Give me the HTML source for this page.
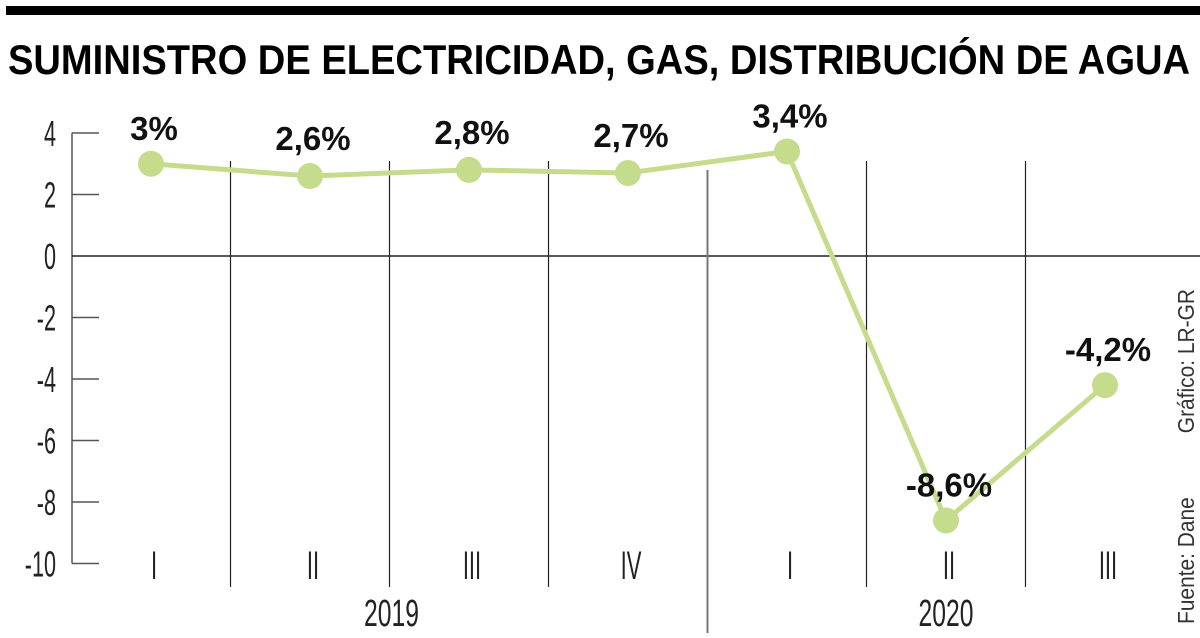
<!DOCTYPE html>
<html><head><meta charset="utf-8"><style>
body{margin:0;background:#fff;width:1200px;height:633px;overflow:hidden}
svg text{font-family:"Liberation Sans",sans-serif}
</style></head><body>
<svg width="1200" height="633">
<rect x="6" y="6" width="1194" height="9" fill="#000"/>
<text x="8" y="74" font-size="42" font-weight="bold" textLength="1182" lengthAdjust="spacingAndGlyphs">SUMINISTRO DE ELECTRICIDAD, GAS, DISTRIBUCIÓN DE AGUA</text>
<g id="axes"></g>
<g id="marks"></g>
<text transform="translate(1194,624) rotate(-90)" font-size="23" fill="#333" textLength="335" lengthAdjust="spacingAndGlyphs">Fuente: Dane&#160;&#160;&#160;&#160;&#160;&#160;&#160;&#160;&#160;&#160;&#160;Gráfico: LR-GR</text>
</svg>
<script>
const categories=["I","II","III","IV","I","II","III"];
const values=[3,2.6,2.8,2.7,3.4,-8.6,-4.2];
const labels=["3%","2,6%","2,8%","2,7%","3,4%","-8,6%","-4,2%"];
const yTicks=[4,2,0,-2,-4,-6,-8,-10];
const years=["2019","2020"];
const NS="http://www.w3.org/2000/svg";
const y=v=>256-v*30.75;
const x=i=>151+i*159;
const ax=document.getElementById('axes'),mk=document.getElementById('marks');
function el(t,a,p){const e=document.createElementNS(NS,t);for(const k in a)e.setAttribute(k,a[k]);p.appendChild(e);return e;}
let e=el('line',{x1:72,x2:72,y1:y(4),y2:y(-10),stroke:'#555','stroke-width':1.5},ax);


yTicks.forEach(t=>{
 const l=el('line',{x1:72,x2:t===0?1200:99,y1:y(t),y2:y(t),stroke:t===0?'#222':'#555','stroke-width':1.5},ax);
 
 
 const tx=el('text',{x:56,y:y(t)+13,'font-size':36,'text-anchor':'end',fill:'#222'},ax);
 tx.setAttribute('transform',`translate(${56-56*0.6},0) scale(0.6,1)`);
 tx.textContent=t;
 
 
});
for(let i=0;i<6;i++){
 const gx=(x(i)+x(i+1))/2;
 const g=el('line',{x1:gx,x2:gx,y1:i===3?170:161,y2:i===3?633:587,stroke:i===3?'#777':'#222','stroke-width':i===3?2:1.2},ax);
 
 
}
categories.forEach((c,i)=>{
 const t=el('text',{x:(x(i)+3)/0.55,y:579,'font-size':40,'text-anchor':'middle',fill:'#222',transform:'scale(0.55,1)'},ax);
 t.textContent=c;
 
 
});
[[(x(0)+x(3))/2+2,0],[(x(4)+x(6))/2+0,1]].forEach(([px,i])=>{
 const t=el('text',{x:px/0.65,y:626,'font-size':38,'text-anchor':'middle',fill:'#222',transform:'scale(0.65,1)'},ax);
 t.textContent=years[i];
 
 
});
const pl=el('polyline',{points:values.map((v,i)=>x(i)+','+y(v)).join(' '),fill:'none',stroke:'#c5dc8c','stroke-width':5},mk);


values.forEach((v,i)=>{
 const c=el('circle',{cx:x(i),cy:y(v),r:13,fill:'#c5dc8c'},mk);
 
 
 const t=el('text',{x:x(i)+3,y:y(v)-24,'font-size':33,'font-weight':'bold','text-anchor':'middle',fill:'#111'},mk);
 if(i===1||i===2||i===3) t.setAttribute('y',y(v)-26);
 t.textContent=labels[i];
 
 
});
</script>
</body></html>
